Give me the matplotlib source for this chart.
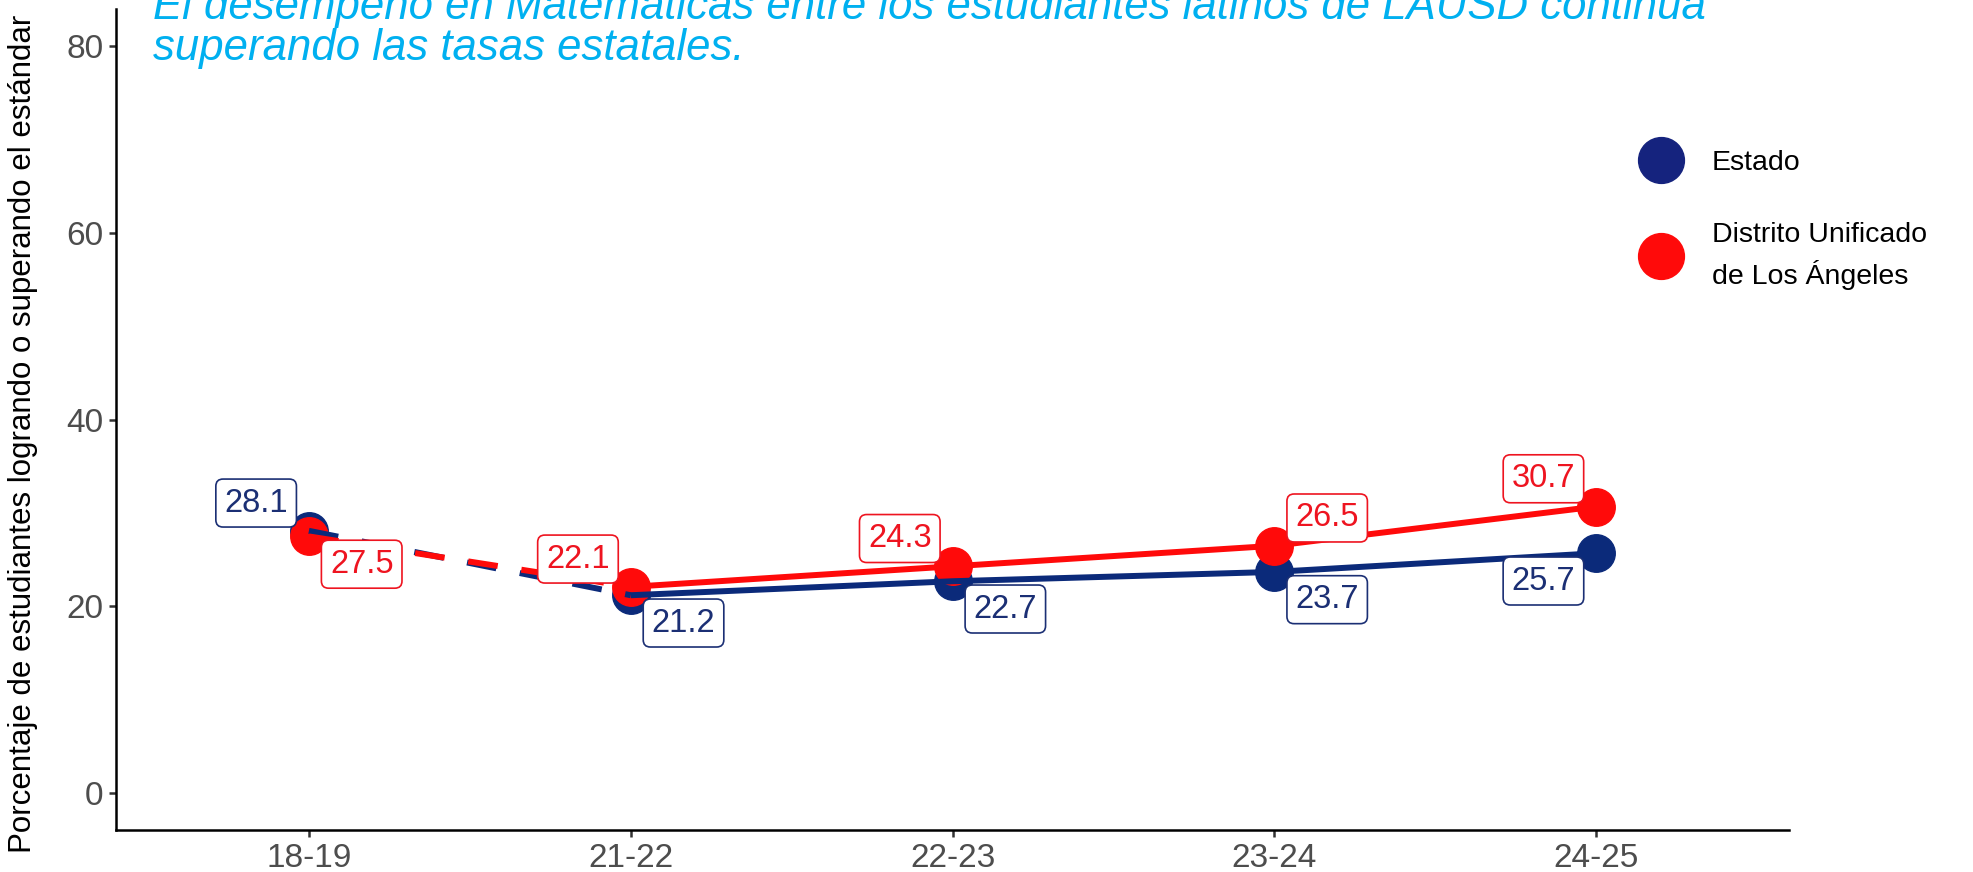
import matplotlib
matplotlib.use("Agg")
import matplotlib.pyplot as plt
from matplotlib.lines import Line2D

plt.rcParams['font.family'] = ['Liberation Sans', 'DejaVu Sans']

years = ["18-19", "21-22", "22-23", "23-24", "24-25"]
estado = [28.1, 21.2, 22.7, 23.7, 25.7]
lausd = [27.5, 22.1, 24.3, 26.5, 30.7]
yticks = [0, 20, 40, 60, 80]

title = ("El desempeño en Matemáticas entre los estudiantes latinos de LAUSD continúa\n"
         "superando las tasas estatales.")
ylab = "Porcentaje de estudiantes logrando o superando el estándar"

navy = "#0B2A7A"
red = "#FF0A0A"
navy_txt = "#1B2F74"
red_txt = "#EE1420"

# label placement (sign of x / y offset) for each point
estado_dir = [(-1, 1), (1, -1), (1, -1), (1, -1), (-1, -1)]
lausd_dir = [(1, -1), (-1, 1), (-1, 1), (1, 1), (-1, 1)]

fig = plt.figure(figsize=(19.73, 8.72), dpi=100)
ax = fig.add_axes([0.0587, 0.0476, 0.8482, 0.9421])

x = list(range(len(years)))

# points first
ax.plot(x, estado, 'o', color=navy, ms=27, zorder=2)
ax.plot(x, lausd, 'o', color=red, ms=27, zorder=3)

# first segment dashed (gap in years), rest solid
ax.plot(x[:2], estado[:2], color=navy, lw=4.3, ls=(0, (5, 4)), zorder=4)
ax.plot(x[1:], estado[1:], color=navy, lw=4.3, zorder=4, solid_capstyle='butt')
ax.plot(x[:2], lausd[:2], color=red, lw=4.3, ls=(0, (5, 4)), zorder=5)
ax.plot(x[1:], lausd[1:], color=red, lw=4.3, zorder=5, solid_capstyle='butt')

for vals, dirs, c in [(estado, estado_dir, navy_txt), (lausd, lausd_dir, red_txt)]:
    for i, v in enumerate(vals):
        dx, dy = dirs[i]
        ax.annotate(f"{v:.1f}", (i, v), xytext=(38 * dx, 20 * dy),
                    textcoords='offset points', ha='center', va='center',
                    fontsize=23.5, color=c, zorder=6,
                    bbox=dict(boxstyle='round,pad=0.26,rounding_size=0.22',
                              fc='white', ec=c, lw=1.2))

ax.set_xlim(-0.6, 4.6)
ax.set_ylim(-4, 84)
ax.set_xticks(x)
ax.set_xticklabels(years)
ax.set_yticks(yticks)
ax.tick_params(labelsize=24, labelcolor='#4D4D4D', color='#333333',
               length=5, width=1.8, pad=4)
for s in ['top', 'right']:
    ax.spines[s].set_visible(False)
for s in ['left', 'bottom']:
    ax.spines[s].set_linewidth(1.8)
    ax.spines[s].set_color('black')

ax.set_ylabel(ylab, fontsize=22.5, color='black', va='center')
ax.yaxis.set_label_coords(-0.0555, 0.4827)

fig.text(153 / 1973, 1 - 60 / 872, title, fontsize=31.5, style='italic',
         color='#00B0F0', ha='left', va='baseline', linespacing=1.0)

handles = [Line2D([], [], color="#15237E", marker='o', ms=33, lw=2),
           Line2D([], [], color=red, marker='o', ms=33, lw=2)]
leg = ax.legend(handles, ["Estado", "Distrito Unificado\nde Los Ángeles"],
                loc='upper left', bbox_to_anchor=(1648 / 1973, 1 - 150 / 872),
                bbox_transform=fig.transFigure, frameon=False, fontsize=20.5,
                handlelength=0.9, handletextpad=1.35, labelspacing=1.6,
                borderaxespad=0, borderpad=0)
for t in leg.get_texts():
    t.set_linespacing(1.5)

fig.savefig("out.png", dpi=100)
